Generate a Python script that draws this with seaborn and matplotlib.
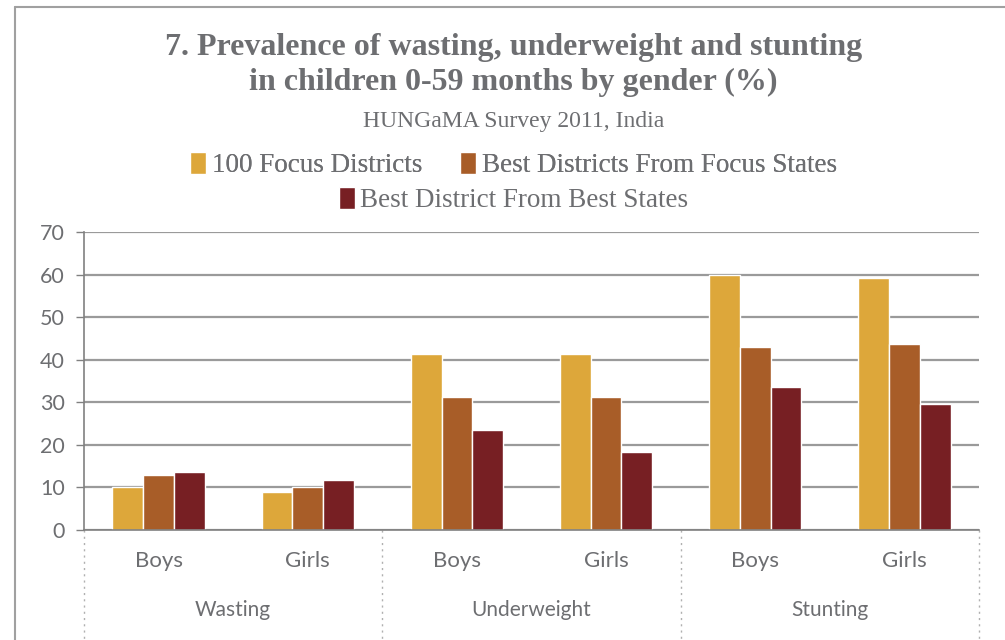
import pandas as pd
import seaborn as sns
import matplotlib.pyplot as plt
import matplotlib.transforms as mtransforms
from matplotlib.lines import Line2D

# data
groups = ['Wasting', 'Underweight', 'Stunting']
genders = ['Boys', 'Girls']
series = ['100 Focus Districts', 'Best Districts From Focus States', 'Best District From Best States']
focus_districts = [10, 9, 41.4, 41.4, 60, 59.2]
best_focus_states = [13, 10, 31.3, 31.3, 43, 43.7]
best_best_states = [13.7, 11.8, 23.6, 18.4, 33.6, 29.6]
colors = ['#DDA73A', '#A85D28', '#771F23']

text_gray = '#6d6e71'
grid_gray = '#9a9a9a'

cats = [g + ' ' + s for g in groups for s in genders]
rows = []
for name, vals in zip(series, [focus_districts, best_focus_states, best_best_states]):
    for c, v in zip(cats, vals):
        rows.append({'cat': c, 'series': name, 'value': v})
df = pd.DataFrame(rows)

sns.set_style('white')
plt.rcParams['font.family'] = ['Lato', 'DejaVu Sans']

fig = plt.figure(figsize=(10.05, 6.4), dpi=100)
ax = fig.add_axes([84 / 1005, 110 / 640, 895 / 1005, 298 / 640])

sns.barplot(data=df, x='cat', y='value', hue='series', order=cats, hue_order=series,
            palette=colors, width=0.62, saturation=1, ax=ax, legend=True)

ax.set_ylim(0, 70)
ax.set_yticks(range(0, 71, 10))
ax.set_xlim(-0.5, len(cats) - 0.5)
ax.yaxis.grid(True, color=grid_gray, linewidth=1.6)
ax.set_axisbelow(True)
ax.set_xlabel('')
ax.set_ylabel('')
ax.set_xticks(range(len(cats)))
ax.set_xticklabels(genders * len(groups))

for s in ['top', 'right']:
    ax.spines[s].set_visible(False)
for s in ['left', 'bottom']:
    ax.spines[s].set_color('#808080')
    ax.spines[s].set_linewidth(1.2)

ax.tick_params(axis='y', direction='out', length=6, width=1, color='#808080',
               labelsize=15.5, labelcolor=text_gray, pad=8, left=True)
ax.tick_params(axis='x', length=0, labelsize=16, labelcolor=text_gray, pad=15)

# group labels and dotted separators under the axis
trans = mtransforms.blended_transform_factory(ax.transData, ax.transAxes)
for i, g in enumerate(groups):
    ax.text(i * 2 + 0.5, -0.268, g, transform=trans, ha='center', va='center',
            fontsize=15, color=text_gray)
for b in range(len(groups) + 1):
    ax.plot([b * 2 - 0.5, b * 2 - 0.5], [0, -0.5], transform=trans, clip_on=False,
            color='#b0b0b0', linestyle=(0, (1.5, 3)), linewidth=1)

# legend in two centered rows
handles, labels = ax.get_legend_handles_labels()
ax.get_legend().remove()
leg_kw = dict(frameon=False, handlelength=0.6, handleheight=0.85, handletextpad=0.2,
              columnspacing=1.4, prop={'family': 'Liberation Serif', 'size': 19.5},
              labelcolor=text_gray, borderaxespad=0)
leg1 = fig.legend(handles[:2], labels[:2], loc='center', ncol=2,
                  bbox_to_anchor=(0.511, 1 - 165 / 640), **leg_kw)
fig.legend(handles[2:], labels[2:], loc='center', ncol=1,
           bbox_to_anchor=(0.511, 1 - 200 / 640), **leg_kw)
fig.add_artist(leg1)

# titles
fig.text(0.511, 1 - 47 / 640, '7. Prevalence of wasting, underweight and stunting',
         ha='center', va='center', fontsize=23, fontweight='bold',
         family='Liberation Serif', color=text_gray)
fig.text(0.511, 1 - 82 / 640, 'in children 0-59 months by gender (%)',
         ha='center', va='center', fontsize=23, fontweight='bold',
         family='Liberation Serif', color=text_gray)
fig.text(0.511, 1 - 121 / 640, 'HUNGaMA Survey 2011, India',
         ha='center', va='center', fontsize=17, family='Liberation Serif', color=text_gray)

# outer frame
fig.add_artist(Line2D([15 / 1005, 15 / 1005], [0, 1 - 7 / 640], transform=fig.transFigure,
                      color='#a0a0a0', linewidth=1.5))
fig.add_artist(Line2D([15 / 1005, 1], [1 - 7 / 640, 1 - 7 / 640], transform=fig.transFigure,
                      color='#a0a0a0', linewidth=1.5))

fig.savefig('out.png', dpi=100)
